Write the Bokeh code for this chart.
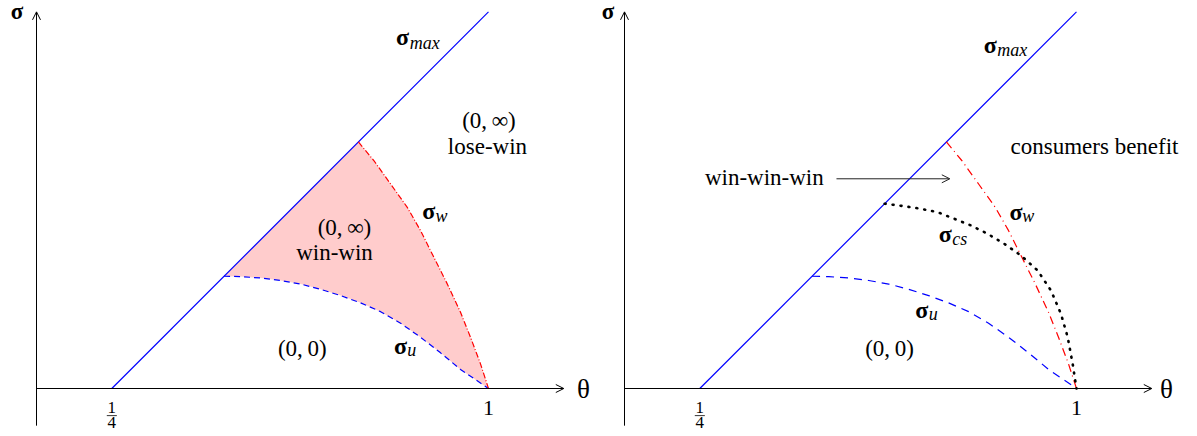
from bokeh.plotting import figure
from bokeh.layouts import row
from bokeh.models import Arrow, OpenHead, Range1d
from bokeh.core.properties import value
from bokeh.embed import file_html
from bokeh.resources import INLINE

# Upper bound sigma_max = theta - 1/4
theta_max = [0.25, 1.0]
sigma_max = [0.0, 0.75]

# sigma_u : threshold below which the outcome is (0,0)
theta_u = [0.4735, 0.5067, 0.5465, 0.5863, 0.6261, 0.6659, 0.7057, 0.7454,
           0.7852, 0.8250, 0.8648, 0.9046, 0.9443, 1.0]
sigma_u = [0.2235, 0.2228, 0.2200, 0.2150, 0.2080, 0.1975, 0.1850, 0.1705,
           0.1530, 0.1300, 0.1020, 0.0710, 0.0380, 0.0]

# sigma_w : welfare boundary
theta_w = [0.7410, 0.7720, 0.8051, 0.8383, 0.8648, 0.8913, 0.9179, 0.9443,
           0.9642, 0.9841, 1.0]
sigma_w = [0.4910, 0.4535, 0.4072, 0.3607, 0.3143, 0.2612, 0.2083, 0.1518,
           0.1020, 0.0491, 0.0]

# sigma_cs : consumer surplus boundary
theta_cs = [0.6180, 0.6571, 0.6904, 0.7236, 0.7567, 0.7899, 0.8232, 0.8562,
            0.8895, 0.9227, 0.9492, 0.9691, 0.9825, 0.9924, 1.0]
sigma_cs = [0.3680, 0.3630, 0.3578, 0.3511, 0.3379, 0.3246, 0.3080, 0.2881,
            0.2648, 0.2350, 0.1951, 0.1487, 0.1022, 0.0491, 0.0]

# axis extents
theta_axis = [0.1, 1.15]
sigma_axis = [-0.074, 0.75]

SERIF = value("'Liberation Serif', 'Times New Roman', serif")
BLUE = "#0000ff"
RED = "#ff0000"
PX = 502.2  # pixels per unit on both axes


def base(y, size):
    # lift the anchor so the glyphs sit on the intended baseline
    return y + 0.38 * size / PX


def make_panel(width, axis_px):
    p = figure(width=width, height=436, output_backend="svg",
               toolbar_location=None, x_axis_location=None,
               y_axis_location=None, min_border=0,
               x_range=Range1d(0.1 - axis_px / PX, 0.1 + (width - axis_px) / PX),
               y_range=Range1d(-48 / PX, 388 / PX))
    p.outline_line_color = None
    p.grid.visible = False
    return p


def txt(p, x, y, s, size, align="center", style="normal"):
    p.text(x=[x], y=[base(y, size)], text=[s], text_font=SERIF,
           text_font_size=f"{size}px", text_font_style=style,
           text_align=align, text_baseline="alphabetic")


def axes(p, theta_lab, sigma_lab):
    head = dict(size=8, line_width=1, line_color="black")
    p.add_layout(Arrow(end=OpenHead(**head), x_start=theta_axis[0], y_start=0,
                       x_end=theta_axis[1], y_end=0, line_width=1, line_color="black"))
    p.add_layout(Arrow(end=OpenHead(**head), x_start=theta_axis[0], y_start=sigma_axis[0],
                       x_end=theta_axis[0], y_end=sigma_axis[1], line_width=1, line_color="black"))
    txt(p, theta_lab[0], theta_lab[1], "θ", 27)
    txt(p, sigma_lab[0], sigma_lab[1], "σ", 23, style="bold")
    # tick labels: 1/4 as a stacked fraction, and 1
    txt(p, 0.25, -0.0504, "1", 17)
    txt(p, 0.25, -0.0810, "4", 17)
    p.segment(x0=[0.240], y0=[-0.0540], x1=[0.260], y1=[-0.0540],
              line_color="black", line_width=0.8)
    txt(p, 1.0, -0.0558, "1", 22)


def sym(p, x, y, sub, dx, dy):
    txt(p, x, y, "σ", 24, style="bold")
    txt(p, x + dx, y - dy, sub, 18, align="left", style="italic")


# ---------- left panel ----------
p1 = make_panel(598, 36)
p1.patch(x=theta_w + theta_u[::-1], y=sigma_w + sigma_u[::-1],
         fill_color="#ffcccc", line_color=None)
p1.line(theta_max, sigma_max, line_color=BLUE, line_width=1.2)
p1.line(theta_u, sigma_u, line_color=BLUE, line_width=1.2, line_dash="6 4")
p1.line(theta_w, sigma_w, line_color=RED, line_width=1.2, line_dash="6 2 1 2")
axes(p1, (1.1892, -0.0219), (0.0612, 0.7328))
sym(p1, 0.8288, 0.6810, "max", 0.0145, 0.0066)
sym(p1, 0.8812, 0.3345, "w", 0.0133, 0.0040)
sym(p1, 0.8248, 0.0671, "u", 0.0133, 0.0048)
txt(p1, 1.0010, 0.5157, "(0,\u2009∞)", 23)
txt(p1, 0.9980, 0.4640, "lose-win", 23)
txt(p1, 0.7133, 0.3027, "(0,\u2009∞)", 23)
txt(p1, 0.6934, 0.2529, "win-win", 23)
txt(p1, 0.6291, 0.0617, "(0,\u20090)", 23)

# ---------- right panel ----------
p2 = make_panel(599, 26)
p2.line(theta_max, sigma_max, line_color=BLUE, line_width=1.2)
p2.line(theta_u, sigma_u, line_color=BLUE, line_width=1.2, line_dash="8 6")
p2.line(theta_w, sigma_w, line_color=RED, line_width=1.2, line_dash="8 4 1 4")
p2.line(theta_cs, sigma_cs, line_color="black", line_width=2.6,
        line_dash="1 7", line_cap="round")
axes(p2, (1.1793, -0.0219), (0.0671, 0.7328))
sym(p2, 0.8282, 0.6665, "max", 0.0140, 0.0068)
sym(p2, 0.8796, 0.3331, "w", 0.0123, 0.0026)
sym(p2, 0.7386, 0.2893, "cs", 0.0139, 0.0046)
sym(p2, 0.6920, 0.1388, "u", 0.0140, 0.0048)
txt(p2, 1.0359, 0.4640, "consumers benefit", 23)
txt(p2, 0.3784, 0.4022, "win-win-win", 23)
txt(p2, 0.6277, 0.0617, "(0,\u20090)", 23)
p2.add_layout(Arrow(end=OpenHead(size=8, line_width=1, line_color="#222222"),
                    x_start=0.5221, y_start=0.4176, x_end=0.7478, y_end=0.4176,
                    line_width=1, line_color="#222222"))

layout = row(p1, p2)
open("out.html", "w").write(file_html(layout, INLINE))
